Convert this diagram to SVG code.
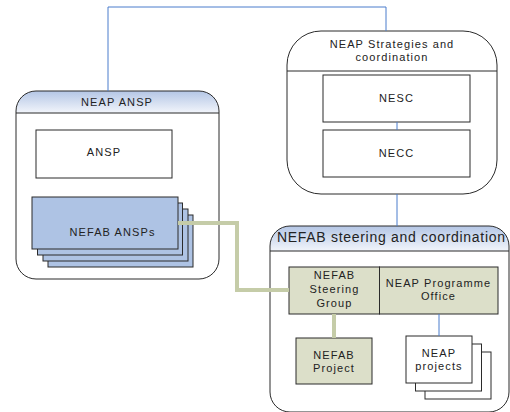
<svg xmlns="http://www.w3.org/2000/svg" width="510" height="412" viewBox="0 0 510 412">
<style>
.t{font-family:"Liberation Sans",Arial,sans-serif;font-size:11px;letter-spacing:1.1px;fill:#222;text-anchor:middle}
.big{font-family:"Liberation Sans",Arial,sans-serif;font-size:14px;letter-spacing:0.7px;fill:#222}
.box{fill:#fff;stroke:#2b2b2b;stroke-width:1}
.grn{fill:#dcdfc9;stroke:#2b2b2b;stroke-width:1}
.blu{fill:#aec3e4;stroke:#2b2b2b;stroke-width:1}
.cont{fill:none;stroke:#2b2b2b;stroke-width:1}
.bl{fill:none;stroke:#4a7dcc;stroke-width:1}
.gl{fill:none;stroke:#c5cca8;stroke-width:4}
</style>
<defs>
<linearGradient id="hdr" x1="0" y1="0" x2="0" y2="1">
<stop offset="0" stop-color="#b4c6e5"/>
<stop offset="1" stop-color="#f2f5fb"/>
</linearGradient>
<clipPath id="c1"><rect x="16" y="91" width="203" height="188" rx="20" ry="20"/></clipPath>
<clipPath id="c3"><rect x="270" y="226" width="239" height="186" rx="20" ry="20"/></clipPath>
</defs>

<g id="neap-ansp">
<rect x="16" y="91" width="203" height="188" rx="20" ry="20" fill="#fff"/>
<rect x="16" y="91" width="203" height="22" fill="url(#hdr)" clip-path="url(#c1)"/>
<rect class="cont" x="16" y="91" width="203" height="188" rx="20" ry="20"/>
<line class="cont" x1="16" y1="113" x2="219" y2="113"/>
<text class="t" x="117" y="106">NEAP ANSP</text>
</g>
<g id="ansp">
<rect class="box" x="36" y="130" width="136" height="48"/>
<text class="t" x="104" y="156">ANSP</text>
</g>
<g id="nefab-ansps">
<rect class="blu" x="48" y="215" width="145" height="52"/>
<rect class="blu" x="43" y="209" width="145" height="52"/>
<rect class="blu" x="37.5" y="203" width="145" height="52"/>
<rect class="blu" x="32" y="197" width="146" height="52"/>
<text class="t" x="112.5" y="236">NEFAB ANSPs</text>
</g>

<g id="neap-strategies">
<rect class="box" x="287" y="31" width="210" height="163" rx="34" ry="34"/>
<line class="cont" x1="287" y1="71" x2="497" y2="71"/>
<text class="t" x="392" y="48">NEAP Strategies and</text>
<text class="t" x="392" y="61">coordination</text>
</g>
<g id="nesc">
<rect class="box" x="323" y="75" width="147" height="47"/>
<text class="t" x="396.5" y="102">NESC</text>
</g>
<g id="necc">
<rect class="box" x="323" y="130" width="147" height="47"/>
<text class="t" x="396.5" y="157">NECC</text>
</g>

<g id="nefab-steering">
<rect x="270" y="226" width="239" height="186" rx="20" ry="20" fill="#fff"/>
<rect x="270" y="226" width="239" height="25" fill="url(#hdr)" clip-path="url(#c3)"/>
<rect class="cont" x="270" y="226" width="239" height="186" rx="20" ry="20"/>
<line class="cont" x1="270" y1="251" x2="509" y2="251"/>
<text class="big" x="277" y="242">NEFAB steering and coordination</text>
</g>
<g id="steering-group">
<rect class="grn" x="289" y="267" width="90.5" height="47"/>
<text class="t" x="334.5" y="279">NEFAB</text>
<text class="t" x="334.5" y="293">Steering</text>
<text class="t" x="334.5" y="307">Group</text>
</g>
<g id="programme-office">
<rect class="grn" x="379.5" y="267" width="118.5" height="47"/>
<text class="t" x="438.5" y="287">NEAP Programme</text>
<text class="t" x="438.5" y="300">Office</text>
</g>
<g id="nefab-project">
<rect class="grn" x="296" y="338" width="76" height="46"/>
<text class="t" x="334" y="359">NEFAB</text>
<text class="t" x="334" y="372">Project</text>
</g>
<g id="neap-projects">
<rect class="box" x="425" y="352" width="66" height="47"/>
<rect class="box" x="415.5" y="344" width="66" height="47"/>
<rect class="box" x="406" y="336" width="66" height="47"/>
<text class="t" x="439" y="357">NEAP</text>
<text class="t" x="439" y="370">projects</text>
</g>

<g id="connectors">
<path class="bl" d="M108,91 V7 H386 V31"/>
<path class="bl" d="M397,122 V130"/>
<path class="bl" d="M397,194 V226"/>
<path class="bl" d="M439,314 V336"/>
<path class="gl" d="M178,223 H237 V290 H289"/>
<path class="gl" d="M334,314 V338"/>
</g>
</svg>
